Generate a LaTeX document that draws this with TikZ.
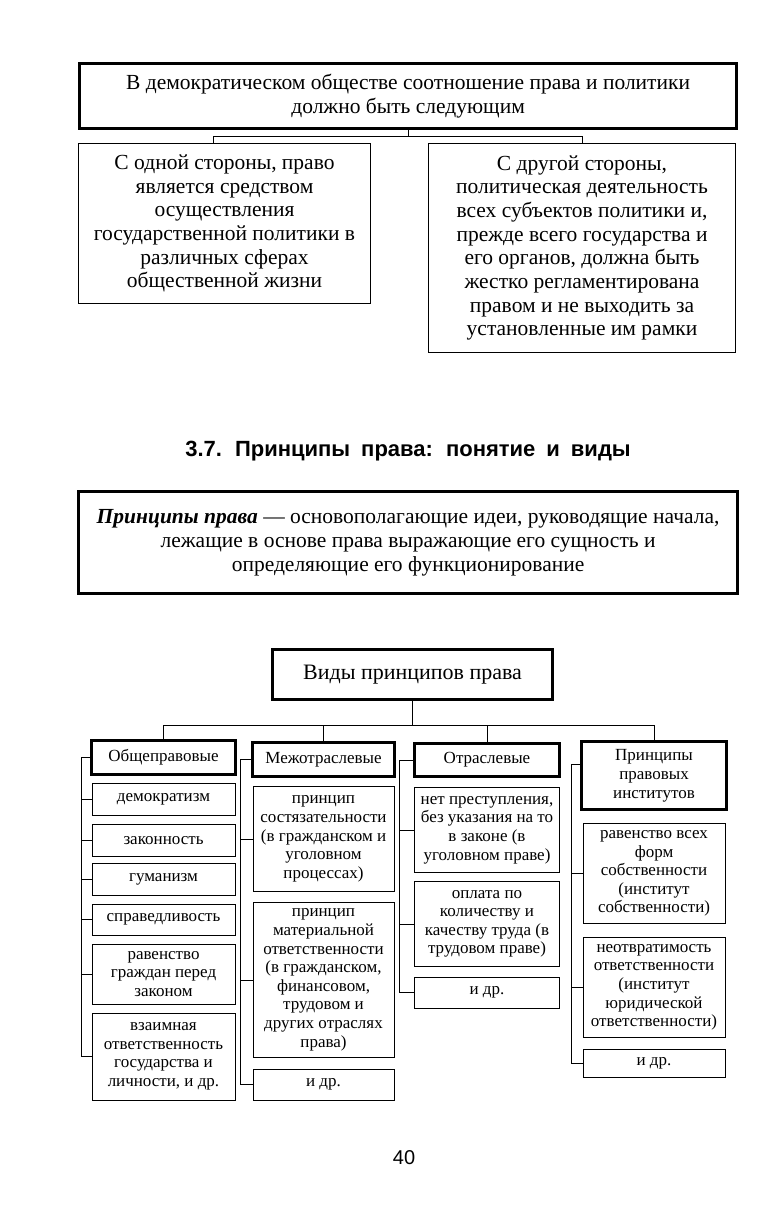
\documentclass[tikz,border=0pt]{standalone}
\usepackage{fontspec}
\setmainfont{Liberation Serif}
\setsansfont{Liberation Sans}
\usetikzlibrary{positioning}

\begin{document}
\begin{tikzpicture}[x=1pt, y=-1pt,
    framebox/.style={rectangle, draw, line width=3.2pt, inner sep=0pt, align=center, font=\fontsize{21.5}{23.7}\selectfont},
    sidebox/.style={rectangle, draw, line width=1pt, inner sep=0pt, align=center, font=\fontsize{21.5}{23.7}\selectfont},
    headbox/.style={rectangle, draw, line width=3pt, inner sep=0pt, align=center, font=\fontsize{17}{19}\selectfont},
    itembox/.style={rectangle, draw, line width=0.9pt, inner sep=0pt, align=center, font=\fontsize{17}{18.6}\selectfont},
    link/.style={line width=0.7pt}
]
\useasboundingbox (0,0) rectangle (777,1230);
\node[framebox, anchor=north west, minimum width=657, minimum height=65] (democracy) at (78,62) {В демократическом обществе соотношение права и политики\\должно быть следующим};
\node[sidebox, anchor=north west, minimum width=292, minimum height=160] (oneside) at (78,143) {С одной стороны, право\\является средством\\осуществления\\государственной политики в\\различных сферах\\общественной жизни};
\node[sidebox, anchor=north west, minimum width=307, minimum height=209] (otherside) at (428,143) {С другой стороны,\\политическая деятельность\\всех субъектов политики и,\\прежде всего государства и\\его органов, должна быть\\жестко регламентирована\\правом и не выходить за\\установленные им рамки};
\draw[link] (democracy.south) -- ++(0,6) coordinate (fork);
\draw[link] ([xshift=-11pt]oneside.north) |- (fork) -| (otherside.north);

\node[font=\sffamily\bfseries\fontsize{22}{26}\selectfont] (heading) at (408,451) {\spaceskip=0.5em 3.7. Принципы права: понятие и виды};
\node[framebox, anchor=north west, minimum width=659, minimum height=102] (definition) at (77,490) {\textbf{\textit{Принципы права}} — основополагающие идеи, руководящие начала,\\лежащие в основе права выражающие его сущность и\\определяющие его функционирование};

\node[framebox, anchor=north west, minimum width=280, minimum height=50, font=\fontsize{22}{26}\selectfont] (kinds) at (271,648) {Виды принципов права};

% columns
\node[headbox, anchor=north west, minimum width=144, minimum height=34] (general) at (90,739) {Общеправовые};
\node[itembox, below=7pt of general, minimum width=143, minimum height=32] (democratism) {демократизм};
\node[itembox, below=8pt of democratism, minimum width=143, minimum height=32] (legality) {законность};
\node[itembox, below=6pt of legality, minimum width=143, minimum height=32] (humanism) {гуманизм};
\node[itembox, below=8pt of humanism, minimum width=143, minimum height=31] (justice) {справедливость};
\node[itembox, below=8pt of justice, minimum width=143, minimum height=60] (equality) {равенство\\граждан перед\\законом};
\node[itembox, below=8pt of equality, minimum width=143, minimum height=87] (mutual) {взаимная\\ответственность\\государства и\\личности, и др.};

\node[headbox, anchor=north west, minimum width=142, minimum height=34] (inter) at (251,741) {Межотраслевые};
\node[itembox, below=8pt of inter, minimum width=141, minimum height=105] (adversarial) {принцип\\состязательности\\(в гражданском и\\уголовном\\процессах)};
\node[itembox, below=10pt of adversarial, minimum width=141, minimum height=155] (liability) {принцип\\материальной\\ответственности\\(в гражданском,\\финансовом,\\трудовом и\\других отраслях\\права)};
\node[itembox, below=11pt of liability, minimum width=141, minimum height=31] (interetc) {и др.};

\node[headbox, anchor=north west, minimum width=145, minimum height=33] (branch) at (413,742) {Отраслевые};
\node[itembox, below=9pt of branch, minimum width=145, minimum height=85] (nocrime) {нет преступления,\\без указания на то\\в законе (в\\уголовном праве)};
\node[itembox, below=8pt of nocrime, minimum width=145, minimum height=85] (labour) {оплата по\\количеству и\\качеству труда (в\\трудовом праве)};
\node[itembox, below=10pt of labour, minimum width=145, minimum height=31] (branchetc) {и др.};

\node[headbox, anchor=north west, minimum width=145, minimum height=68] (inst) at (580,740) {Принципы\\правовых\\институтов};
\node[itembox, below=12pt of inst, minimum width=142, minimum height=100] (property) {равенство всех\\форм\\собственности\\(институт\\собственности)};
\node[itembox, below=13pt of property, minimum width=142, minimum height=100] (inevitability) {неотвратимость\\ответственности\\(институт\\юридической\\ответственности)};
\node[itembox, below=11pt of inevitability, minimum width=142, minimum height=28] (instetc) {и др.};

% connectors
\draw[link] (kinds.south) -- ++(0,24) coordinate (kfork);
\draw[link] (general.north) |- (kfork) -| (inst.north);
\draw[link] (inter.north) |- (kfork);
\draw[link] (branch.north) |- (kfork);

\coordinate (grail) at ([xshift=-9pt]general.west);
\draw[link] (general.west) -- (grail) (grail) |- (democratism.west) (grail) |- (legality.west) (grail) |- (humanism.west) (grail) |- (justice.west) (grail) |- (equality.west) (grail) |- (mutual.west);
\coordinate (irail) at ([xshift=-11pt]inter.west);
\draw[link] (inter.west) -- (irail) (irail) |- (adversarial.west) (irail) |- (liability.west) (irail) |- (interetc.west);
\coordinate (brail) at ([xshift=-14pt]branch.west);
\draw[link] (branch.west) -- (brail) (brail) |- (nocrime.west) (brail) |- (labour.west) (brail) |- (branchetc.west);
\coordinate (prail) at ([xshift=-9pt,yshift=11pt]inst.west);
\draw[link] ([yshift=11pt]inst.west) -- (prail) (prail) |- (property.west) (prail) |- (inevitability.west) (prail) |- (instetc.west);

\node[font=\sffamily\fontsize{20}{24}\selectfont] (pagenum) at (404,1158) {40};
\end{tikzpicture}
\end{document}
